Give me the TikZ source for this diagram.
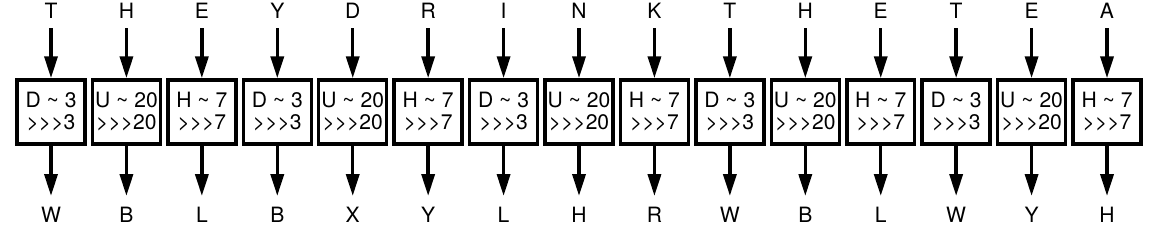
\documentclass[tikz,border=0pt]{standalone}
\usepackage{fontspec}
\setmainfont{TeX Gyre Heros}
\usetikzlibrary{arrows.meta,positioning}

\begin{document}
\begin{tikzpicture}[x=0.02cm,y=-0.02cm,
    rotor/.style={draw,line width=2pt,minimum width=1.36cm,minimum height=1.28cm,
      inner sep=0pt,align=center,font=\fontsize{12}{12.5}\selectfont},
    letter/.style={inner sep=0pt,font=\fontsize{12}{13}\selectfont},
    flow/.style={line width=2pt,-{Triangle[width=0.26cm,length=0.44cm]}}]
  \useasboundingbox (0,0) rectangle (1157,228);
  % Rotores com letra de entrada e de saida
  \foreach \p/\c/\k/\s [count=\n from 0] in {T/W/D/3,H/B/U/20,E/L/H/7,Y/B/D/3,D/X/U/20,
      R/Y/H/7,I/L/D/3,N/H/U/20,K/R/H/7,T/W/D/3,H/B/U/20,E/L/H/7,T/W/D/3,E/Y/U/20,A/H/H/7}{
    \node[rotor] (r\n) at ({51+75.43*\n},112) {\k\ \textasciitilde\ \s\\>{}>{}>\s};
    \node[letter,anchor=south,outer sep=0.2cm] (in\n) at ({51+75.43*\n},28) {\p};
    \node[letter,anchor=north,outer sep=0.22cm] (out\n) at ({51+75.43*\n},196) {\c};
    \draw[flow] (in\n) -- (r\n);
    \draw[flow] (r\n) -- (out\n);
  }
\end{tikzpicture}
\end{document}
